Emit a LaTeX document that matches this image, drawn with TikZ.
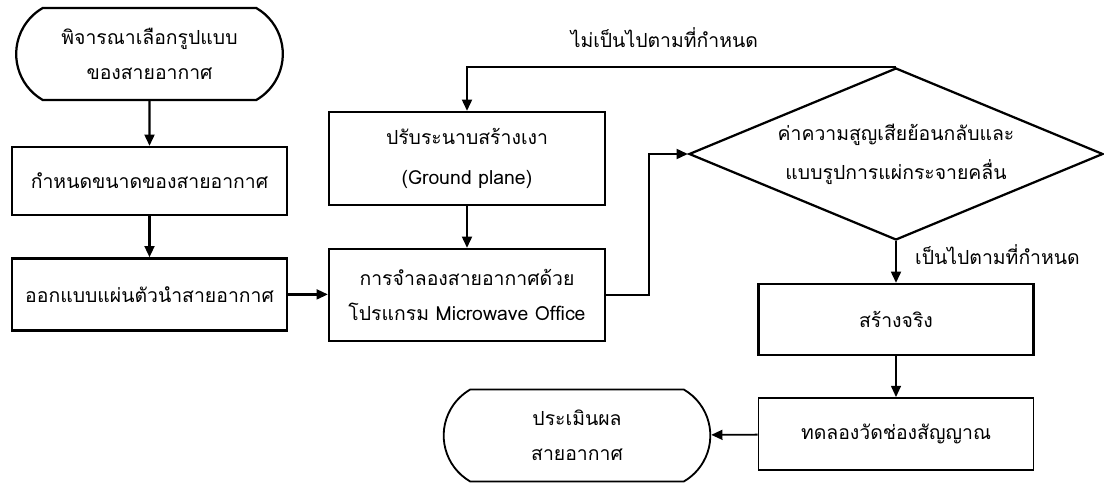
\documentclass[tikz,border=0pt]{standalone}
\usepackage{fontspec}
\setmainfont[Script=Thai]{Loma}
\usetikzlibrary{shapes.geometric,shapes.misc,arrows.meta}

\newcommand\flowfont{\fontsize{13.8}{25}\selectfont}

\tikzset{
  box/.style={draw, rectangle, line width=1.6pt, minimum width=6.875cm, align=center, font=\flowfont},
  terminal/.style={draw, rounded rectangle, rounded rectangle arc length=120, line width=1.6pt,
    minimum width=6.9cm, minimum height=2.3cm, align=center, font=\flowfont},
  decision/.style={draw, diamond, line width=1.6pt, minimum width=10.35cm, minimum height=4.3cm, inner sep=0pt},
  flow/.style={line width=1.6pt, -{Triangle[length=8pt,width=7pt]}},
  tag/.style={inner sep=0pt, font=\flowfont}
}

\begin{document}
\begin{tikzpicture}
\useasboundingbox (0,0) rectangle (27.6,-12.075);

\node[terminal] (start) at (3.7375,-1.35) {พิจารณาเลือกรูปแบบ\\ของสายอากาศ};
\node[box, minimum height=1.7cm] (size) at (3.7375,-4.525) {กำหนดขนาดของสายอากาศ};
\node[box, minimum height=1.8cm] (design) at (3.7375,-7.36) {ออกแบบแผ่นตัวนำสายอากาศ};

\node[box, minimum width=6.9cm, minimum height=2.325cm] (ground) at (11.675,-3.9625) {ปรับระนาบสร้างเงา\\[4pt](Ground plane)};
\node[box, minimum width=6.9cm, minimum height=2.3cm] (sim) at (11.675,-7.375) {การจำลองสายอากาศด้วย\\โปรแกรม Microwave Office};

\node[decision] (check) at (22.4,-3.85) {};
\node[tag, align=center] (checktext) at (check) {ค่าความสูญเสียย้อนกลับและ\\[3pt]แบบรูปการแผ่กระจายคลื่น};

\node[box, minimum height=1.775cm] (build) at (22.4,-7.9875) {สร้างจริง};
\node[box, minimum height=1.8cm, line width=1.3pt] (measure) at (22.4,-10.85) {ทดลองวัดช่องสัญญาณ};
\node[terminal, line width=1.3pt] (eval) at (14.425,-10.8875) {ประเมินผล\\สายอากาศ};

\draw[flow] (start) -- (size);
\draw[flow] (size) -- (design);
\draw[flow] (design) -- (design -| sim.west);
\draw[flow] (ground) -- (sim);
\draw[flow] (sim.east) -- ++(1.075,0) |- (check.west);
\draw[flow] (check.north) -| node[tag, pos=0.27, above=0.45cm] (notok) {ไม่เป็นไปตามที่กำหนด} (ground.north);
\draw[flow] (check.south) -- node[tag, pos=0.33, right=0.45cm] (ok) {เป็นไปตามที่กำหนด} (build.north);
\draw[flow, line width=1.3pt] (build) -- (measure);
\draw[flow, line width=1.3pt] (measure) -- (eval);

\end{tikzpicture}
\end{document}
